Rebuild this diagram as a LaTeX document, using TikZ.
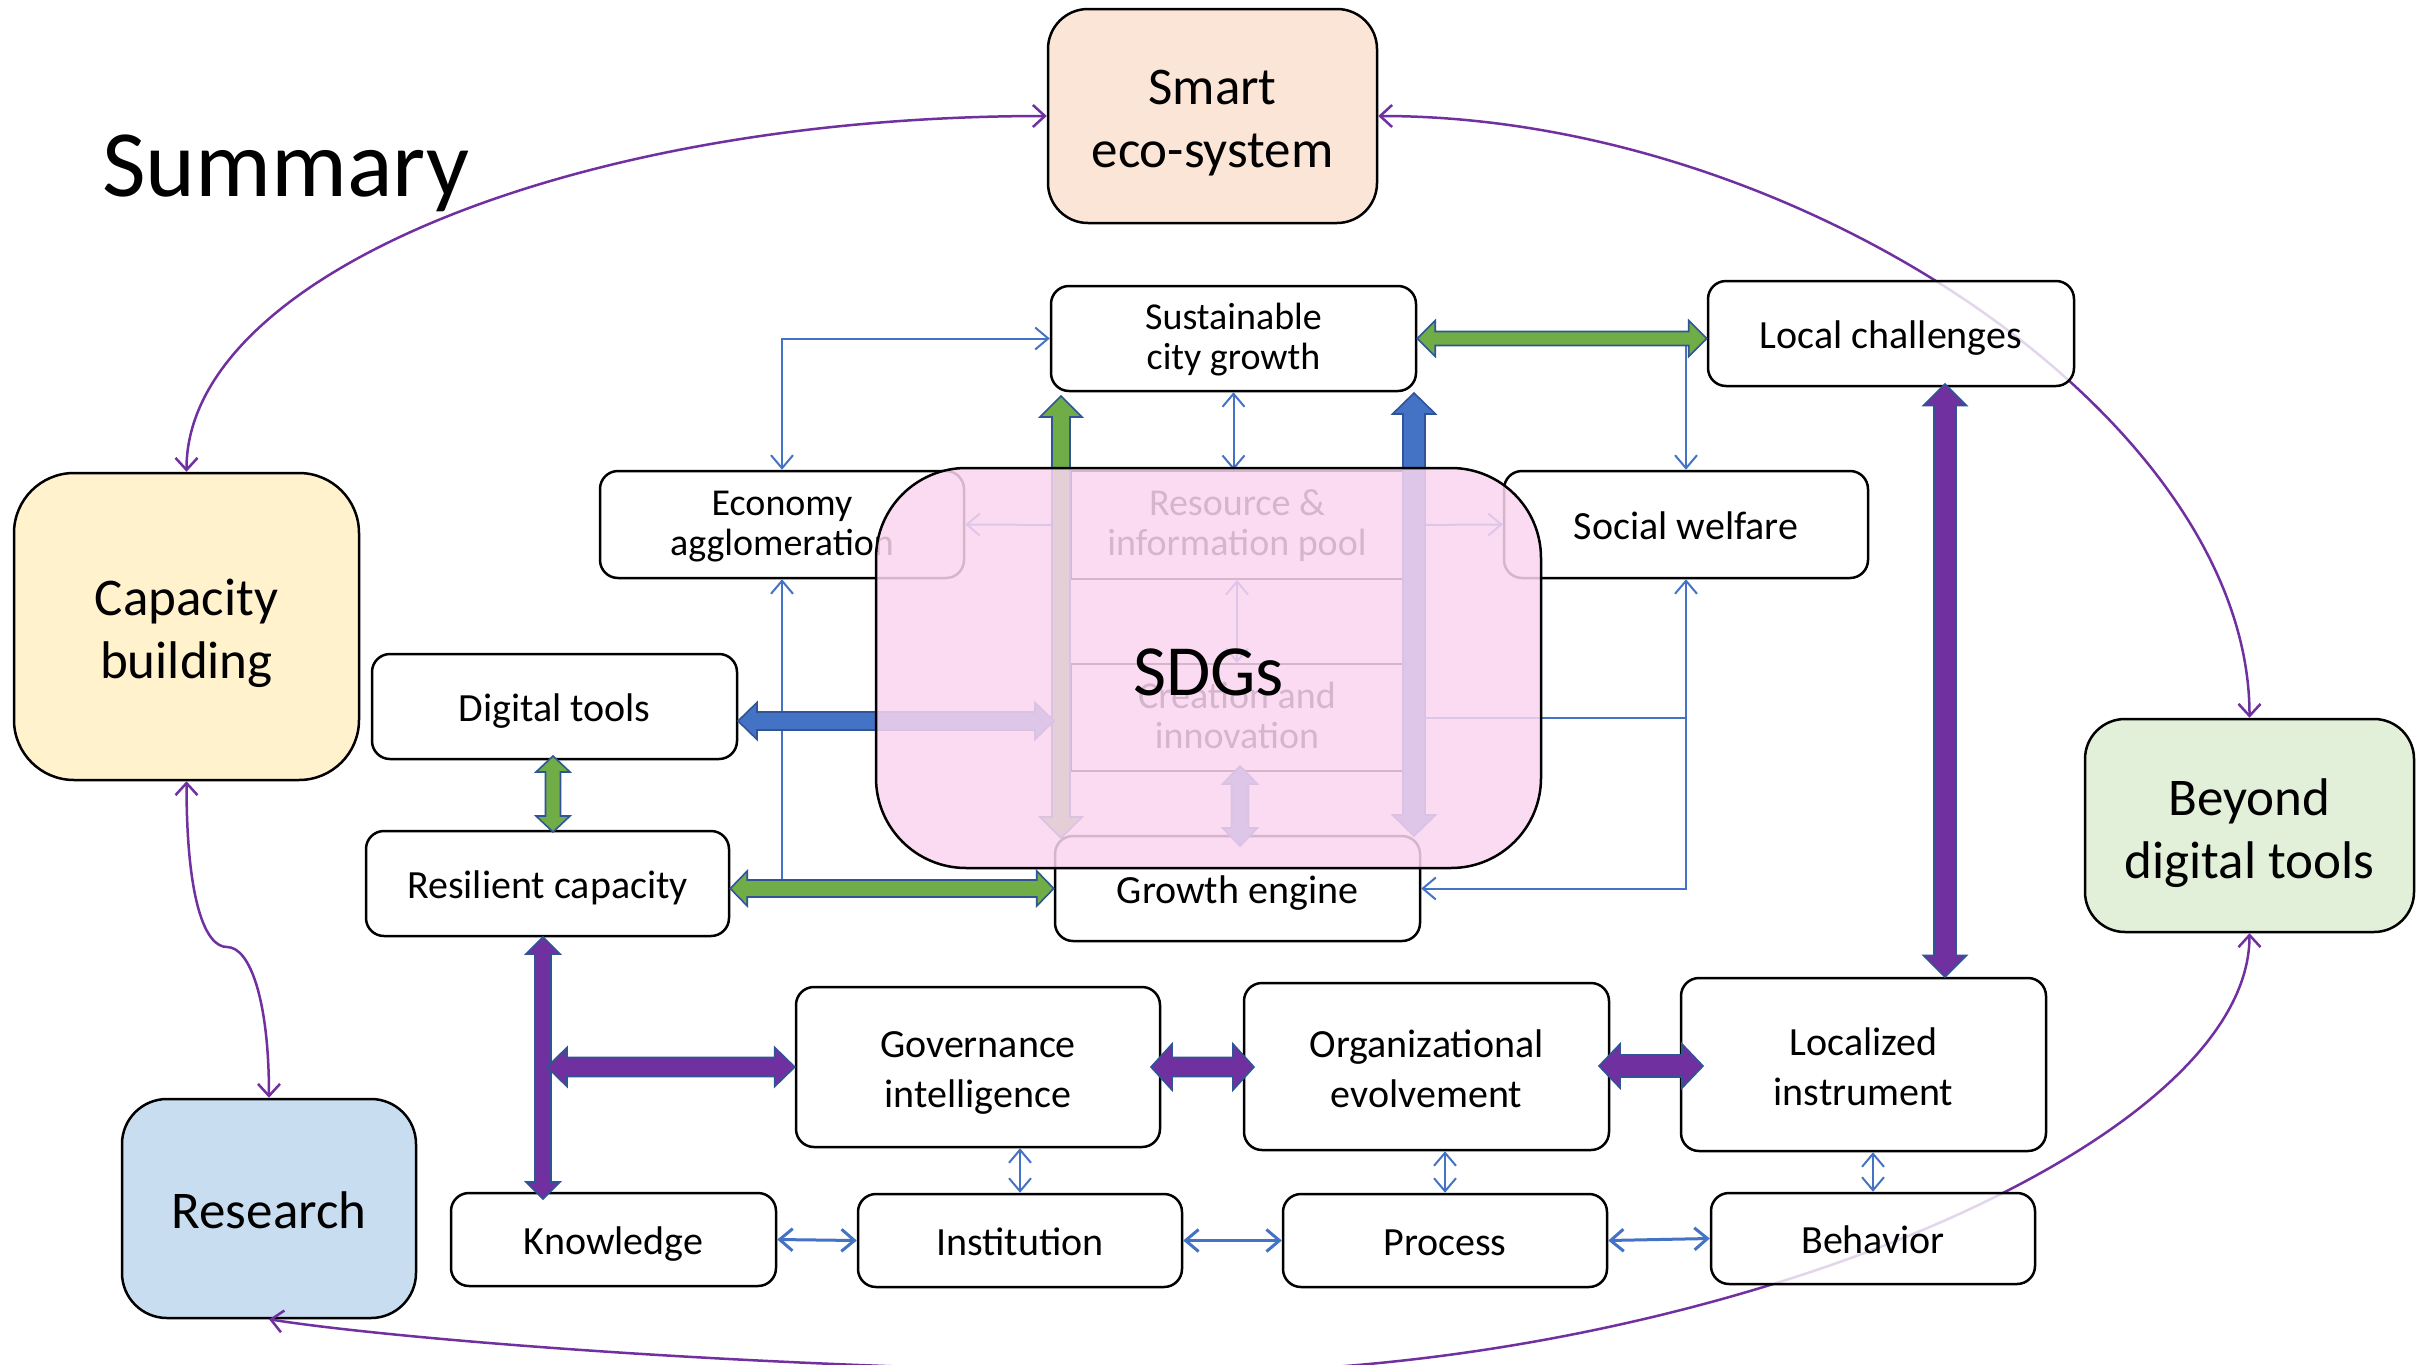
\documentclass[tikz,border=0pt]{standalone}
\usepackage{fontspec}
\setmainfont{Carlito}
\usetikzlibrary{arrows.meta,calc}

\definecolor{cblue}{HTML}{4472C4}
\definecolor{cgreen}{HTML}{70AD47}
\definecolor{cpurple}{HTML}{7030A0}
\definecolor{cedge}{HTML}{2F5597}
\definecolor{peach}{HTML}{FBE5D6}
\definecolor{lyellow}{HTML}{FFF2CC}
\definecolor{lblue}{HTML}{C8DDF0}
\definecolor{lgreen}{HTML}{E2F0D9}
\definecolor{pinkc}{HTML}{FAD5F0}

% struts for vertical placement of multi-line text
\newcommand{\tsr}[1]{\rule{0pt}{#1}}
\newcommand{\bsr}[1]{\rule[-#1]{0pt}{#1}}

% double block arrow: #1 start, #2 end, #3 half shaft, #4 half head, #5 head length, #6 fill
\newcommand{\barrow}[6]{%
  \filldraw[fill=#6, draw=cedge, line width=1.6pt, line join=miter]
  (#1) -- ($(#1)!#5!(#2)!#4!90:(#2)$) -- ($(#1)!#5!(#2)!#3!90:(#2)$)
  -- ($(#2)!#5!(#1)!#3!-90:(#1)$) -- ($(#2)!#5!(#1)!#4!-90:(#1)$)
  -- (#2) -- ($(#2)!#5!(#1)!#4!90:(#1)$) -- ($(#2)!#5!(#1)!#3!90:(#1)$)
  -- ($(#1)!#5!(#2)!#3!-90:(#2)$) -- ($(#1)!#5!(#2)!#4!-90:(#2)$) -- cycle;}

\begin{document}
\begin{tikzpicture}[x=1pt,y=-1pt,
  box/.style={draw=black, line width=2.5pt, rounded corners=18pt, fill=white,
    fill opacity=0.8, text opacity=1, align=center, inner sep=0pt,
    font=\fontsize{40}{50}\selectfont},
  onebox/.style={box, text height=38pt, text depth=8pt},
  twobox/.style={box, font=\fontsize{38}{40}\selectfont},
  bigbox/.style={box, fill opacity=1, rounded corners=45pt,
    font=\fontsize{53}{63}\selectfont},
  flatbox/.style={draw=black, line width=2pt, fill=white, align=center,
    inner sep=0pt, font=\fontsize{38}{40}\selectfont},
  tb/.style={draw=cblue, line width=2pt, >={Straight Barb[length=13pt,width=22pt]}},
  pcurve/.style={draw=cpurple, line width=2.5pt, >={Straight Barb[length=12pt,width=22pt]}},
]
\fill[white] (0,0) rectangle (2423,1365);
\useasboundingbox (0,0) rectangle (2423,1365);

% big coloured nodes
\node[bigbox, fill=peach, rounded corners=40pt, minimum width=329pt, minimum height=214pt] (smart) at (1212.5,116) {\tsr{52pt}Smart\\eco-system\bsr{12pt}};
\node[bigbox, fill=lyellow, rounded corners=60pt, minimum width=345pt, minimum height=307pt] (cap) at (186.5,626.5) {\tsr{52pt}Capacity\\building\bsr{12pt}};
\node[bigbox, fill=lblue, rounded corners=45pt, minimum width=294pt, minimum height=219pt, text height=48pt, text depth=8pt] (res) at (269,1208.5) {Research};
\node[bigbox, fill=lgreen, rounded corners=40pt, minimum width=329pt, minimum height=213pt] (beyond) at (2249.5,825.5) {\tsr{54pt}Beyond\\digital tools\bsr{12pt}};

% purple curves (under boxes)
\draw[pcurve,<->] (cap.north) .. controls (186.5,276) and (572,116) .. (smart.west);
\draw[pcurve,<->] (smart.east) .. controls (1800,116) and (2249.5,420) .. (beyond.north);
\draw[pcurve,<->] (cap.south) .. controls (186.5,900) and (205,947) .. (227,947) .. controls (250,947) and (269,1000) .. (res.north);
\draw[pcurve,<->] (beyond.south) .. controls (2249.5,1150) and (1700,1372) .. (1200,1372) .. controls (800,1372) and (400,1340) .. (res.south);

% white nodes
\node[twobox, minimum width=365pt, minimum height=105pt] (sus) at (1233.5,338.5) {\tsr{32pt}Sustainable\\city growth\bsr{11pt}};
\node[onebox, minimum width=366pt, minimum height=105pt] (local) at (1891,333.5) {Local challenges};
\node[twobox, minimum width=364pt, minimum height=107pt] (econ) at (782,524.5) {\tsr{32pt}Economy\\agglomeration\bsr{11pt}};
\node[flatbox, minimum width=332pt, minimum height=108pt] (resrc) at (1237,525) {\tsr{32pt}Resource \&\\information pool\bsr{11pt}};
\node[flatbox, minimum width=332pt, minimum height=107pt] (creat) at (1237,717.5) {\tsr{32pt}Creation and\\innovation\bsr{11pt}};
\node[onebox, minimum width=364pt, minimum height=107pt] (social) at (1686,524.5) {Social welfare};
\node[onebox, minimum width=365pt, minimum height=105pt] (digital) at (554.5,706.5) {Digital tools};
\node[onebox, minimum width=363pt, minimum height=105pt] (resil) at (547.5,883.5) {Resilient capacity};
\node[onebox, minimum width=365pt, minimum height=105pt] (growth) at (1237.5,888.5) {Growth engine};
\node[box, minimum width=364pt, minimum height=160pt] (gov) at (978,1067) {\tsr{42pt}Governance\\intelligence\bsr{12pt}};
\node[box, minimum width=365pt, minimum height=167pt] (org) at (1426.5,1066.5) {\tsr{44pt}Organizational\\evolvement\bsr{12pt}};
\node[box, minimum width=365pt, minimum height=173pt] (loc) at (1863.5,1064.5) {\tsr{44pt}Localized\\instrument\bsr{12pt}};
\node[onebox, minimum width=325pt, minimum height=93pt] (know) at (613.5,1239.5) {Knowledge};
\node[onebox, minimum width=324pt, minimum height=93pt] (inst) at (1020,1240.5) {Institution};
\node[onebox, minimum width=324pt, minimum height=93pt] (proc) at (1445,1240.5) {Process};
\node[onebox, minimum width=324pt, minimum height=91pt] (behav) at (1873,1238.5) {Behavior};

% thin blue connectors
\draw[tb,<->] (econ.north) |- (sus.west);
\draw[tb,<->] (sus.south) -- (sus.south |- resrc.north);
\draw[tb,<->] (econ.east) -- (resrc.west);
\draw[tb,<->] (resrc.east) -- (social.west);
\draw[tb,<->] (resrc.south) -- (creat.north);
\coordinate (lcj) at (social.north |- sus.east);
\draw[tb,->] (lcj) -- (social.north);
\draw[tb,<->] (social.south) |- (growth.east);
\coordinate (swj) at (social.south |- creat.east);
\draw[tb,->] (swj) -- (creat.east);
\coordinate (ecj) at (econ.south |- growth.west);
\draw[tb,->] (ecj) -- (econ.south);
\draw[tb,<->] (inst.north) -- (inst.north |- gov.south);
\draw[tb,<->] (proc.north) -- (proc.north |- org.south);
\draw[tb,<->] (behav.north) -- (behav.north |- loc.south);
\draw[tb,line width=3pt,<->] (know.east) -- (inst.west);
\draw[tb,line width=3pt,<->] (inst.east) -- (proc.west);
\draw[tb,line width=3pt,<->] (proc.east) -- (behav.west);

% block arrows
\coordinate (g1a) at (sus.east);
\coordinate (g1b) at (sus.east -| local.west);
\barrow{g1a}{g1b}{7pt}{18pt}{18pt}{cgreen}
\coordinate (g2a) at (553,756);
\coordinate (g2b) at (553,832);
\barrow{g2a}{g2b}{7.5pt}{17pt}{16pt}{cgreen}
\coordinate (g3a) at (resil.east |- growth.west);
\coordinate (g3b) at (growth.west);
\barrow{g3a}{g3b}{8.5pt}{17.5pt}{17pt}{cgreen}
\coordinate (g4a) at (1061,838);
\coordinate (g4b) at (1061,396);
\barrow{g4a}{g4b}{9pt}{21pt}{21pt}{cgreen}
\coordinate (b1a) at (1414,836);
\coordinate (b1b) at (1414,393);
\barrow{b1a}{b1b}{11pt}{21.5pt}{21pt}{cblue}
\coordinate (b2a) at (738,721);
\coordinate (b2b) at (1054,721);
\barrow{b2a}{b2b}{9pt}{18.5pt}{19pt}{cblue}
\coordinate (b3a) at (1240,766);
\coordinate (b3b) at (1240,846);
\barrow{b3a}{b3b}{8.5pt}{17.5pt}{18pt}{cblue}
\coordinate (p1a) at (1945,384);
\coordinate (p1b) at (1945,977);
\barrow{p1a}{p1b}{11pt}{21.5pt}{21.5pt}{cpurple}
\coordinate (p2a) at (543,937);
\coordinate (p2b) at (543,1199);
\barrow{p2a}{p2b}{8pt}{17pt}{17pt}{cpurple}
\coordinate (p3a) at (547,1067);
\coordinate (p3b) at (gov.west);
\barrow{p3a}{p3b}{9.5pt}{19.5pt}{20pt}{cpurple}
\coordinate (p4a) at (1151,1067);
\coordinate (p4b) at (1254,1067);
\barrow{p4a}{p4b}{9.5pt}{23pt}{21pt}{cpurple}
\coordinate (p5a) at (1599,1066);
\coordinate (p5b) at (1703,1066);
\barrow{p5a}{p5b}{11pt}{22pt}{21pt}{cpurple}

% SDGs overlay
\node[draw=black, line width=2.5pt, rounded corners=90pt, fill=pinkc, fill opacity=0.85,
  text opacity=1, minimum width=665pt, minimum height=400pt, inner sep=0pt,
  text height=54pt, text depth=0pt,
  font=\fontsize{72}{80}\selectfont] (sdg) at (1208.5,668) {SDGs};

% title
\node[anchor=base west, inner sep=0pt, font=\fontsize{95}{100}\selectfont] (title) at (102,196) {Summary};
\end{tikzpicture}
\end{document}
